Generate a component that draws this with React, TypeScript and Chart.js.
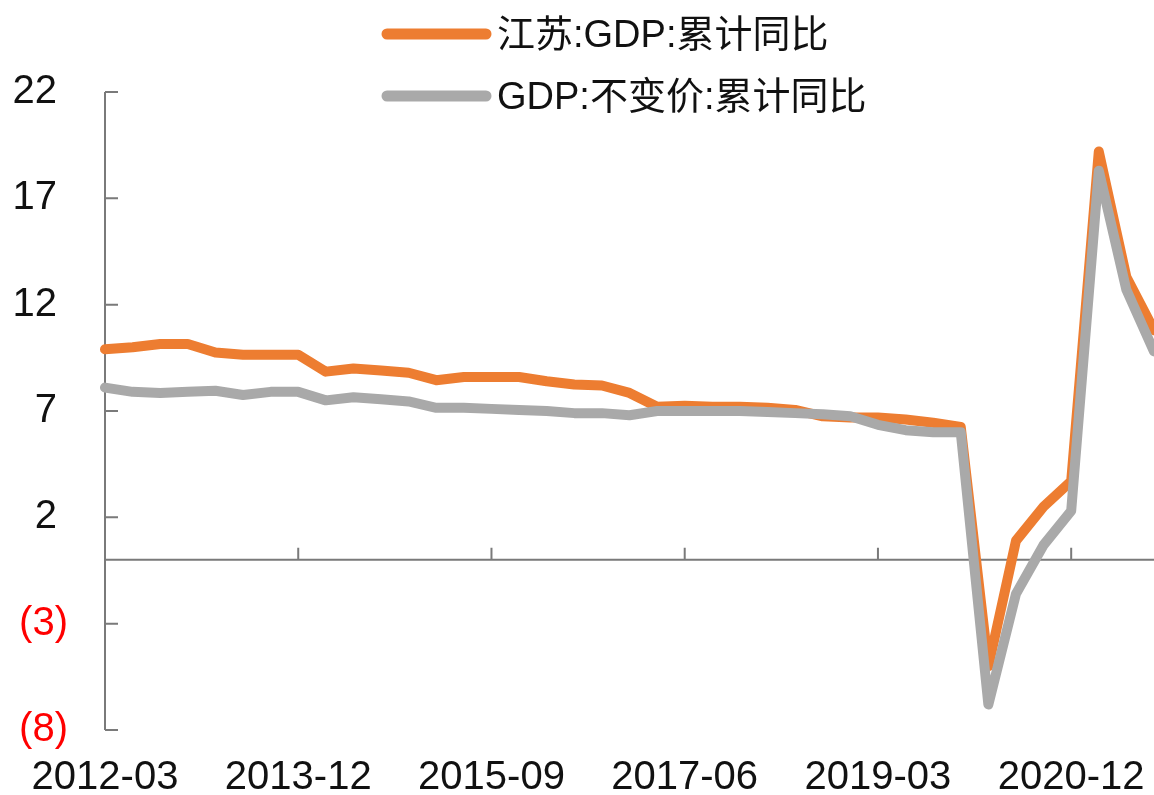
import React, { useEffect, useRef } from 'react';
import { Chart, registerables } from 'chart.js';

Chart.register(...registerables);

const quarters = [
  '2012-03', '2012-06', '2012-09', '2012-12',
  '2013-03', '2013-06', '2013-09', '2013-12',
  '2014-03', '2014-06', '2014-09', '2014-12',
  '2015-03', '2015-06', '2015-09', '2015-12',
  '2016-03', '2016-06', '2016-09', '2016-12',
  '2017-03', '2017-06', '2017-09', '2017-12',
  '2018-03', '2018-06', '2018-09', '2018-12',
  '2019-03', '2019-06', '2019-09', '2019-12',
  '2020-03', '2020-06', '2020-09', '2020-12',
  '2021-03', '2021-06', '2021-09',
];

const shownXLabels = ['2012-03', '2013-12', '2015-09', '2017-06', '2019-03', '2020-12'];

const jiangsuName = '江苏:GDP:累计同比';
const jiangsuValues = [
  9.9, 10.0, 10.15, 10.15,
  9.75, 9.65, 9.65, 9.65,
  8.85, 9.0, 8.9, 8.8,
  8.45, 8.6, 8.6, 8.6,
  8.4, 8.25, 8.2, 7.85,
  7.2, 7.25, 7.2, 7.2,
  7.15, 7.05, 6.75, 6.7,
  6.7, 6.6, 6.45, 6.25,
  -5.0, 0.9, 2.5, 3.7,
  19.2, 13.3, 10.8,
];

const nationalName = 'GDP:不变价:累计同比';
const nationalValues = [
  8.1, 7.9, 7.85, 7.9,
  7.95, 7.75, 7.9, 7.9,
  7.5, 7.65, 7.55, 7.45,
  7.15, 7.15, 7.1, 7.05,
  7.0, 6.9, 6.9, 6.8,
  7.0, 7.0, 7.0, 7.0,
  6.95, 6.9, 6.85, 6.75,
  6.35, 6.1, 6.0, 6.0,
  -6.8, -1.6, 0.7, 2.3,
  18.3, 12.7, 9.8,
];

const yMin = -8;
const yMax = 22;
const yStep = 5;

const ORANGE = '#ED7D31';
const GRAY = '#A9A9A9';
const AXIS = '#7A7A7A';
const FONT = '"Liberation Sans", Arial, "Noto Sans CJK SC", sans-serif';

const W = 1154;
const H = 795;

const customPlugin = {
  id: 'customAxesLegend',
  beforeDatasetsDraw(chart: any) {
    const { ctx, chartArea, scales } = chart;
    const xs = scales.x;
    const ys = scales.y;
    const y0 = ys.getPixelForValue(0);
    ctx.save();
    ctx.strokeStyle = AXIS;
    ctx.lineWidth = 2;
    ctx.beginPath();
    ctx.moveTo(chartArea.left, ys.getPixelForValue(yMax));
    ctx.lineTo(chartArea.left, ys.getPixelForValue(yMin));
    ys.ticks.forEach((t: any) => {
      const py = ys.getPixelForValue(t.value);
      ctx.moveTo(chartArea.left, py);
      ctx.lineTo(chartArea.left + 13, py);
    });
    ctx.moveTo(chartArea.left, y0);
    ctx.lineTo(chartArea.right, y0);
    quarters.forEach((q, i) => {
      if (shownXLabels.includes(q)) {
        const px = xs.getPixelForValue(i);
        ctx.moveTo(px, y0);
        ctx.lineTo(px, y0 - 12);
      }
    });
    ctx.stroke();
    ctx.restore();
  },
  afterDraw(chart: any) {
    const { ctx } = chart;
    const items = [
      { label: jiangsuName, color: ORANGE, y: 34 },
      { label: nationalName, color: GRAY, y: 96 },
    ];
    ctx.save();
    items.forEach((it) => {
      ctx.strokeStyle = it.color;
      ctx.lineWidth = 11;
      ctx.lineCap = 'round';
      ctx.beginPath();
      ctx.moveTo(387, it.y);
      ctx.lineTo(486, it.y);
      ctx.stroke();
      ctx.fillStyle = '#111';
      ctx.font = `38px ${FONT}`;
      ctx.textAlign = 'left';
      ctx.textBaseline = 'middle';
      ctx.fillText(it.label, 497, it.y + 3);
    });
    ctx.restore();
  },
};

export default function App() {
  const canvasRef = useRef<HTMLCanvasElement | null>(null);

  useEffect(() => {
    if (!canvasRef.current) return;
    const chart = new Chart(canvasRef.current, {
      type: 'line',
      data: {
        labels: quarters,
        datasets: [
          {
            label: jiangsuName,
            data: jiangsuValues,
            borderColor: ORANGE,
            backgroundColor: ORANGE,
            borderWidth: 10,
            pointRadius: 0,
            tension: 0,
            borderJoinStyle: 'round',
            borderCapStyle: 'round',
            order: 2,
          },
          {
            label: nationalName,
            data: nationalValues,
            borderColor: GRAY,
            backgroundColor: GRAY,
            borderWidth: 10,
            pointRadius: 0,
            tension: 0,
            borderJoinStyle: 'round',
            borderCapStyle: 'round',
            order: 1,
          },
        ],
      },
      options: {
        responsive: false,
        animation: false,
        layout: { padding: { top: 92, right: 0, left: 0, bottom: 0 } },
        plugins: {
          legend: { display: false },
          tooltip: { enabled: false },
        },
        scales: {
          x: {
            type: 'category',
            offset: false,
            grid: { display: false, drawTicks: false, tickLength: 0 },
            border: { display: false },
            afterFit: (s: any) => {
              s.height = 65;
            },
            ticks: {
              autoSkip: false,
              maxRotation: 0,
              minRotation: 0,
              padding: 0,
              color: '#111',
              font: { family: FONT, size: 40, lineHeight: 2.42 },
              callback: (_v: any, i: number) => (shownXLabels.includes(quarters[i]) ? quarters[i] : ''),
            },
          },
          y: {
            min: yMin,
            max: yMax,
            grid: { display: false, drawTicks: false, tickLength: 0 },
            border: { display: false },
            afterFit: (s: any) => {
              s.width = 105;
            },
            ticks: {
              stepSize: yStep,
              padding: 37,
              font: { family: FONT, size: 40 },
              color: (c: any) => (c.tick && c.tick.value < 0 ? '#FF0000' : '#111'),
              callback: (v: any) => (Number(v) < 0 ? `(${-Number(v)})` : `${v} `),
            },
          },
        },
      },
      plugins: [customPlugin],
    });
    return () => chart.destroy();
  }, []);

  return (
    <div style={{ position: 'absolute', left: 0, top: 0, width: W, height: H, background: '#fff' }}>
      <canvas ref={canvasRef} width={W} height={H} style={{ width: W, height: H, display: 'block' }} />
    </div>
  );
}
